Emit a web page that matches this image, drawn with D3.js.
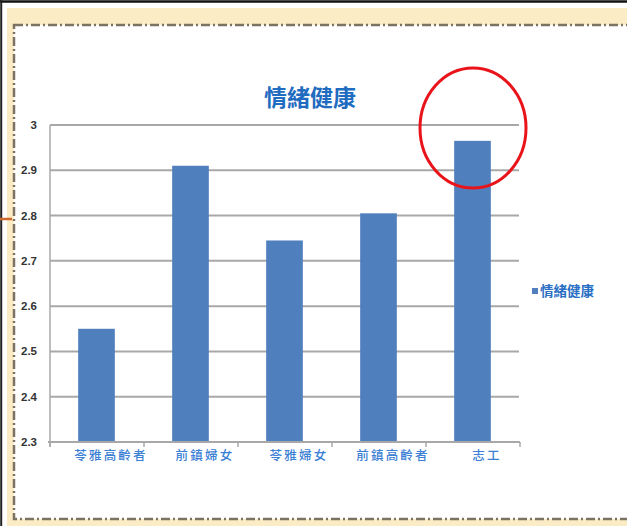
<!DOCTYPE html>
<html><head><meta charset="utf-8">
<script src="https://cdn.jsdelivr.net/npm/d3@7/dist/d3.min.js"></script>
<style>body{margin:0;background:#fff}svg{display:block}</style>
</head><body>
<script>
const title = "情緒健康";
const seriesName = "情緒健康";
const categories = ["苓雅高齡者", "前鎮婦女", "苓雅婦女", "前鎮高齡者", "志工"];
const values = [2.55, 2.91, 2.745, 2.805, 2.965];
const yTicks = [2.3, 2.4, 2.5, 2.6, 2.7, 2.8, 2.9, 3];
const yTickLabels = ["2.3", "2.4", "2.5", "2.6", "2.7", "2.8", "2.9", "3"];

const W = 627, H = 526;
const svg = d3.select("body").append("svg").attr("width", W).attr("height", H);

// frame
svg.append("rect").attr("x",0).attr("y",0).attr("width",W).attr("height",H).attr("fill","#fff");
svg.append("rect").attr("x",7).attr("y",8).attr("width",W).attr("height",H).attr("fill","#fcecc6");
svg.append("rect").attr("x",14).attr("y",25).attr("width",W+20).attr("height",494)
  .attr("fill","#fff").attr("stroke","#7c7264").attr("stroke-width",2.5)
  .attr("stroke-dasharray","9,3,2,3");
svg.append("line").attr("x1",0).attr("x2",W).attr("y1",1.5).attr("y2",1.5).attr("stroke","#111").attr("stroke-width",2.5);
svg.append("line").attr("x1",1.2).attr("x2",1.2).attr("y1",0).attr("y2",H).attr("stroke","#222").attr("stroke-width",2);
svg.append("line").attr("x1",0).attr("x2",12).attr("y1",219).attr("y2",219).attr("stroke","#cf6a2c").attr("stroke-width",2.5);

const x = d3.scaleBand().domain(categories).range([50, 520]).padding(0);
const y = d3.scaleLinear().domain([2.3, 3]).range([442, 125]);

// gridlines
svg.append("g").selectAll("line").data(yTicks).join("line")
  .attr("x1",50).attr("x2",519).attr("y1",d=>y(d)).attr("y2",d=>y(d))
  .attr("stroke","#a8a8a8").attr("stroke-width",2);

// y labels
svg.append("g").selectAll("text").data(yTicks).join("text")
  .attr("x",37).attr("y",d=>y(d)).attr("dy","0.35em").attr("text-anchor","end")
  .attr("font-family","Liberation Sans, Arial, sans-serif").attr("font-weight","bold")
  .attr("font-size",11.5).attr("fill","#333").text((d,i)=>yTickLabels[i]);

// left axis
svg.append("line").attr("x1",50).attr("x2",50).attr("y1",y(3)).attr("y2",y(2.3)+5).attr("stroke","#a8a8a8").attr("stroke-width",1.5);

// bars
const bw = x.bandwidth()*0.39;
svg.append("g").selectAll("rect").data(values).join("rect")
  .attr("x",(d,i)=>x(categories[i])+x.bandwidth()/2 - bw/2 - 0.5)
  .attr("width",bw)
  .attr("y",d=>y(d)).attr("height",d=>y(2.3)-y(d))
  .attr("fill","#4f7fbd");

// bottom axis
svg.append("line").attr("x1",48).attr("x2",520).attr("y1",442).attr("y2",442).attr("stroke","#a8a8a8").attr("stroke-width",2);
const bounds = categories.map(c=>x(c)).concat([x(categories[categories.length-1])+x.bandwidth()]);
svg.append("g").selectAll("line").data(bounds).join("line")
  .attr("x1",d=>d).attr("x2",d=>d).attr("y1",442).attr("y2",447)
  .attr("stroke","#a8a8a8").attr("stroke-width",1.5);

// x labels
svg.append("g").selectAll("text").data(categories).join("text")
  .attr("x",d=>x(d)+x.bandwidth()/2+14).attr("y",456).attr("dy","0.35em")
  .attr("text-anchor","middle")
  .attr("font-family","Noto Sans CJK TC, sans-serif").attr("font-size",12.5)
  .attr("font-weight",500)
  .attr("letter-spacing","2.2px")
  .attr("fill","#3b80d4").text(d=>d);

// title
svg.append("text").attr("x",310).attr("y",98).attr("dy","0.35em").attr("text-anchor","middle")
  .attr("font-family","Noto Sans CJK TC, sans-serif").attr("font-weight","bold")
  .attr("font-size",23).attr("fill","#1f6cc0").text(title);

// legend
svg.append("rect").attr("x",532).attr("y",288).attr("width",6).attr("height",6).attr("fill","#4f7fbd");
svg.append("text").attr("x",540).attr("y",291).attr("dy","0.35em")
  .attr("font-family","Noto Sans CJK TC, sans-serif").attr("font-weight","bold")
  .attr("font-size",13.5).attr("fill","#2a6fc4").text(seriesName);

// red circle annotation
svg.append("ellipse").attr("cx",473).attr("cy",128).attr("rx",53).attr("ry",60)
  .attr("fill","none").attr("stroke","#e8141a").attr("stroke-width",3);
</script>
</body></html>
